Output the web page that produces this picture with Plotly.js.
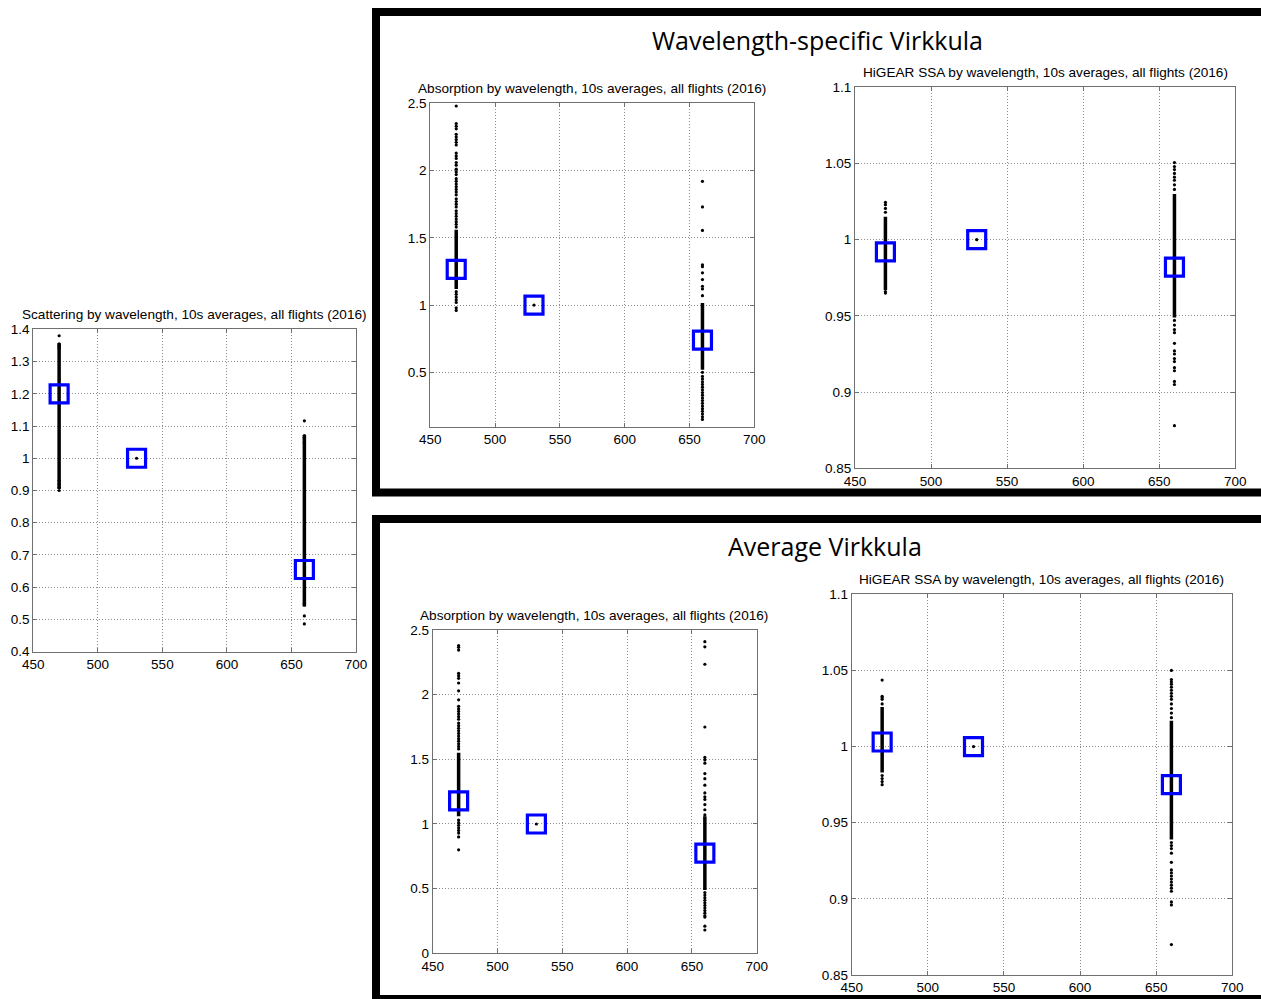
<!DOCTYPE html>
<html>
<head>
<meta charset="utf-8">
<script src="https://cdn.plot.ly/plotly-3.0.1.min.js"></script>
<style>html,body{margin:0;padding:0;background:#fff;}#chart{width:1261px;height:999px;}</style>
</head>
<body>
<div id="chart"></div>
<script>
// ---------- data ----------
const wavelengths = [470, 530, 660];
const xTicks = [450, 500, 550, 600, 650, 700];

const mainTitleTop = "Wavelength-specific Virkkula";
const mainTitleBottom = "Average Virkkula";
const titleScat = "Scattering by wavelength, 10s averages, all flights (2016)";
const titleAbs = "Absorption by wavelength, 10s averages, all flights (2016)";
const titleSsa = "HiGEAR SSA by wavelength, 10s averages, all flights (2016)";

// Scattering (left panel)
const scatMeans = [1.20, 1.00, 0.655];
const scat470Dense = [0.905, 1.357];
const scat470Points = [1.38, 1.355, 1.35, 1.345, 1.34, 0.93, 0.92, 0.91, 0.90];
const scat530Points = [1.0];
const scat660Dense = [0.54, 1.072];
const scat660Points = [1.116, 1.07, 1.065, 1.06, 1.05, 1.045, 0.55, 0.545, 0.511, 0.486];

// Absorption, wavelength-specific Virkkula
const absWMeans = [1.266, 1.00, 0.74];
const absW470Dense = [1.12, 1.56];
const absW470Points = [2.48, 2.35, 2.33, 2.31, 2.27, 2.25, 2.23, 2.21, 2.19, 2.13, 2.11, 2.09, 2.06, 2.04, 2.01,
  1.99, 1.97, 1.94, 1.92, 1.90, 1.88, 1.86, 1.84, 1.82, 1.79, 1.77, 1.75, 1.73, 1.70, 1.68, 1.66, 1.64, 1.62,
  1.60, 1.58, 1.10, 1.08, 1.06, 1.04, 1.02, 0.98, 0.96];
const absW530Points = [1.0];
const absW660Dense = [0.52, 1.015];
const absW660Points = [1.92, 1.73, 1.555, 1.30, 1.285, 1.24, 1.19, 1.14, 1.12, 1.07, 0.50, 0.47, 0.45, 0.43,
  0.41, 0.39, 0.37, 0.35, 0.33, 0.31, 0.29, 0.27, 0.25, 0.23, 0.21, 0.19, 0.17, 0.15];

// SSA, wavelength-specific Virkkula
const ssaWMeans = [0.992, 1.00, 0.982];
const ssaW470Dense = [0.967, 1.015];
const ssaW470Points = [1.0245, 1.023, 1.0205, 1.018, 0.966, 0.965];
const ssaW530Points = [1.0];
const ssaW660Dense = [0.949, 1.030];
const ssaW660Points = [1.0506, 1.048, 1.046, 1.0435, 1.041, 1.039, 1.036, 1.033, 0.947, 0.944, 0.941, 0.939,
  0.932, 0.927, 0.925, 0.922, 0.920, 0.916, 0.914, 0.907, 0.905, 0.878];

// Absorption, average Virkkula
const absAMeans = [1.178, 1.00, 0.775];
const absA470Dense = [1.06, 1.55];
const absA470Points = [2.38, 2.366, 2.345, 2.165, 2.147, 2.126, 2.09, 2.03, 1.96, 1.91, 1.89, 1.87, 1.85, 1.83,
  1.81, 1.78, 1.76, 1.74, 1.72, 1.70, 1.68, 1.66, 1.64, 1.62, 1.60, 1.58, 1.03, 1.01, 0.99, 0.97, 0.95, 0.93,
  0.90, 0.80];
const absA530Points = [1.0];
const absA660Dense = [0.49, 1.06];
const absA660Points = [2.41, 2.37, 2.235, 1.75, 1.515, 1.495, 1.47, 1.39, 1.35, 1.30, 1.24, 1.21, 1.19, 1.15,
  1.11, 1.07, 0.47, 0.45, 0.43, 0.41, 0.39, 0.37, 0.35, 0.33, 0.31, 0.29, 0.28, 0.21, 0.18];

// SSA, average Virkkula
const ssaAMeans = [1.003, 1.00, 0.975];
const ssaA470Dense = [0.983, 1.026];
const ssaA470Points = [1.0437, 1.033, 1.032, 1.031, 1.028, 0.981, 0.979, 0.977, 0.975];
const ssaA530Points = [1.0];
const ssaA660Dense = [0.939, 1.017];
const ssaA660Points = [1.05, 1.044, 1.0425, 1.041, 1.039, 1.037, 1.035, 1.033, 1.031, 1.028, 1.025, 1.022,
  1.019, 0.937, 0.935, 0.933, 0.930, 0.924, 0.919, 0.917, 0.915, 0.913, 0.911, 0.909, 0.907, 0.905, 0.898,
  0.896, 0.870];

// ---------- layout helpers ----------
const W = 1261, H = 999;
const px = v => v / W;
const py = v => 1 - v / H;

function panel(xa, ya, d470, p470, p530, d660, p660, means) {
  const line = {mode: 'lines', line: {color: '#000', width: 3.5}, xaxis: xa, yaxis: ya, hoverinfo: 'skip'};
  const dots = {mode: 'markers', marker: {color: '#000', size: 3.2, symbol: 'circle'}, xaxis: xa, yaxis: ya};
  return [
    Object.assign({x: [wavelengths[0], wavelengths[0]], y: d470}, line),
    Object.assign({x: [wavelengths[2], wavelengths[2]], y: d660}, line),
    Object.assign({x: p470.map(() => wavelengths[0]), y: p470}, dots),
    Object.assign({x: p530.map(() => wavelengths[1]), y: p530}, dots),
    Object.assign({x: p660.map(() => wavelengths[2]), y: p660}, dots),
    {x: wavelengths, y: means, mode: 'markers', xaxis: xa, yaxis: ya,
     marker: {symbol: 'square-open', size: 18, color: '#0000ff', line: {width: 3.2, color: '#0000ff'}}}
  ];
}

const data = [].concat(
  panel('x', 'y', scat470Dense, scat470Points, scat530Points, scat660Dense, scat660Points, scatMeans),
  panel('x2', 'y2', absW470Dense, absW470Points, absW530Points, absW660Dense, absW660Points, absWMeans),
  panel('x3', 'y3', ssaW470Dense, ssaW470Points, ssaW530Points, ssaW660Dense, ssaW660Points, ssaWMeans),
  panel('x4', 'y4', absA470Dense, absA470Points, absA530Points, absA660Dense, absA660Points, absAMeans),
  panel('x5', 'y5', ssaA470Dense, ssaA470Points, ssaA530Points, ssaA660Dense, ssaA660Points, ssaAMeans)
);

const tickFont = {family: 'Liberation Sans, Arial, sans-serif', size: 13.5, color: '#000'};
const gridStyle = {showgrid: true, gridcolor: '#8c8c8c', griddash: '1px,2px', gridwidth: 1};
function xAxis(l, r, anchor) {
  return Object.assign({domain: [px(l), px(r)], anchor: anchor, range: [450, 700], tickvals: xTicks,
    showline: true, mirror: 'ticks', linecolor: '#707070', linewidth: 1,
    ticks: 'inside', ticklen: 4, tickcolor: '#707070',
    zeroline: false, tickfont: tickFont, fixedrange: true}, gridStyle);
}
function yAxis(t, b, anchor, range, tickvals) {
  return Object.assign({domain: [py(b), py(t)], anchor: anchor, range: range, tickvals: tickvals,
    showline: true, mirror: 'ticks', linecolor: '#707070', linewidth: 1,
    ticks: 'inside', ticklen: 4, tickcolor: '#707070',
    zeroline: false, tickfont: tickFont, fixedrange: true}, gridStyle);
}

const scatTicks = [0.4, 0.5, 0.6, 0.7, 0.8, 0.9, 1, 1.1, 1.2, 1.3, 1.4];
const absWTicks = [0.5, 1, 1.5, 2, 2.5];
const absATicks = [0, 0.5, 1, 1.5, 2, 2.5];
const ssaTicks = [0.85, 0.9, 0.95, 1, 1.05, 1.1];

const subFont = {family: 'Liberation Sans, Arial, sans-serif', size: 13.6, color: '#000'};
const bigFont = {family: 'Open Sans, sans-serif', size: 25, color: '#000'};
function ann(text, x, y, font) {
  return {text: text, x: px(x), y: py(y), xref: 'paper', yref: 'paper', xanchor: 'center', yanchor: 'middle',
    showarrow: false, font: font};
}

const layout = {
  width: W, height: H, margin: {l: 0, r: 0, t: 0, b: 0},
  paper_bgcolor: '#fff', plot_bgcolor: '#fff', showlegend: false,
  xaxis: xAxis(33.3, 356, 'y'),   yaxis: yAxis(329.3, 651.7, 'x', [0.4, 1.4], scatTicks),
  xaxis2: xAxis(430.3, 754.3, 'y2'), yaxis2: yAxis(103.3, 426.7, 'x2', [0.096, 2.5], absWTicks),
  xaxis3: xAxis(855, 1235.3, 'y3'),  yaxis3: yAxis(87.3, 468.3, 'x3', [0.85, 1.1], ssaTicks),
  xaxis4: xAxis(432.7, 756.7, 'y4'), yaxis4: yAxis(630, 953.3, 'x4', [0, 2.5], absATicks),
  xaxis5: xAxis(851.7, 1232.3, 'y5'), yaxis5: yAxis(594.3, 975, 'x5', [0.85, 1.1], ssaTicks),
  shapes: [
    {type: 'rect', xref: 'paper', yref: 'paper', x0: px(376), x1: px(1270), y0: py(492.5), y1: py(12),
     line: {color: '#000', width: 8}, fillcolor: 'rgba(0,0,0,0)', layer: 'below'},
    {type: 'rect', xref: 'paper', yref: 'paper', x0: px(376), x1: px(1270), y0: py(999), y1: py(519),
     line: {color: '#000', width: 8}, fillcolor: 'rgba(0,0,0,0)', layer: 'below'}
  ],
  annotations: [
    ann(mainTitleTop, 817, 40, bigFont),
    ann(mainTitleBottom, 824.5, 546, bigFont),
    ann(titleScat, 194.5, 314, subFont),
    ann(titleAbs, 592, 88.5, subFont),
    ann(titleSsa, 1045, 72, subFont),
    ann(titleAbs, 594, 615.5, subFont),
    ann(titleSsa, 1041, 579, subFont)
  ]
};

Plotly.newPlot('chart', data, layout, {displayModeBar: false, staticPlot: true});
</script>
</body>
</html>
